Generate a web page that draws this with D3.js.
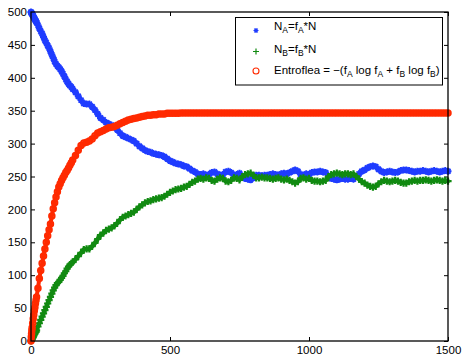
<!DOCTYPE html>
<html><head><meta charset="utf-8">
<script src="https://cdn.jsdelivr.net/npm/d3@7"></script>
<style>body{margin:0;background:#fff}svg{display:block}text{font-family:"Liberation Sans",Arial,Helvetica,sans-serif}</style>
</head><body>
<svg id="c" width="463" height="357"></svg>
<script>
// sample times (finer at the start where the curves are steep)
const xEarly = [0,1,2,3,4,6,8,10,12,14,16,18,20];
const steps = xEarly.concat(d3.range(25,151,5), d3.range(160,1501,10));

// N_A = f_A * N  (blue)
const nA = [500,499,498,498,497,495,494,492,490,489,487,486,484,
480,475,471,467,462,457,453,449,445,440,435,430,425,421,418,416,413,410,406,402,398,394,391,388,386,383,
378,372,366,361,360,360,356,351,345,339,336,332,330,328,325,321,316,312,310,308,306,304,300,296,293,290,288,287,285,284,
283,282,280,277,274,272,270,269,268,266,265,262,259,257,254,253,254,252,253,256,257,254,252,253,257,258,256,252,253,255,
250,247,246,245,248,252,252,251,252,252,253,254,253,252,254,255,254,256,258,260,258,253,252,254,253,256,257,257,258,257,
256,250,247,246,245,246,247,246,246,247,246,250,254,258,260,263,265,266,265,261,258,256,257,258,257,256,257,259,260,260,
259,258,257,258,258,259,258,257,258,259,258,257,258,259,258];

// N_B = f_B * N  (green)
const nB = [0,1,2,2,3,5,6,8,10,11,13,14,16,
22,27,32,37,42,47,52,57,62,67,72,77,81,85,88,90,93,96,99,103,106,110,113,116,118,120,
124,129,134,139,140,140,144,149,155,161,164,168,170,172,175,179,184,188,190,192,194,196,200,204,207,210,212,213,215,216,
217,218,220,223,226,228,230,231,232,234,235,238,241,243,246,247,246,248,247,244,243,246,248,247,243,242,244,248,247,245,
250,253,254,255,252,248,248,249,248,248,247,246,247,248,246,245,246,244,242,240,242,247,248,246,247,244,243,243,242,243,
244,250,253,254,255,254,253,254,254,253,254,250,246,242,240,237,235,234,235,239,242,244,243,242,243,244,243,241,240,240,
242,243,244,243,244,244,245,244,243,244,245,244,243,244,243];

// Entroflea (red)
const entro = [0,6,11,16,20,27,34,40,46,51,57,62,67,
80,95,107,118,129,140,150,160,169,178,190,201,210,219,227,234,239,244,248,252,256,259,263,267,271,275,
282,290,297,301,302,304,307,312,316,318,320,322,324,325,326,328,330,332,334,336,337,338,339,340,341,342,343,343,344,344,
345,345,345,346,346,346,346,346,346.5,346.5,346.5,346.5,346.5,346.5,346.5,346.5,346.5,346.5,346.5,346.5,346.5,346.5,346.5,346.5,346.5,346.5,
346.5,346.5,346.5,346.5,346.5,346.5,346.5,346.5,346.5,346.5,346.5,346.5,346.5,346.5,346.5,346.5,346.5,346.5,346.5,346.5,346.5,346.5,346.5,346.5,346.5,346.5,
346.5,346.5,346.5,346.5,346.5,346.5,346.5,346.5,346.5,346.5,346.5,346.5,346.5,346.5,346.5,346.5,346.5,346.5,346.5,346.5,346.5,346.5,346.5,346.5,346.5,346.5,
346.5,346.5,346.5,346.5,346.5,346.5,346.5,346.5,346.5,346.5,346.5,346.5,346.5,346.5,346.5,346.5,346.5,346.5,346.5,346.5,346.5,346.5,346.5,346.5,346.5,346.5,
346.5,346.5,346.5,346.5,346.5,346.5,346.5,346.5,346.5,346.5,346.5,346.5,346.5,346.5,346.5];

const xTicks = [0,500,1000,1500];
const yTicks = [0,50,100,150,200,250,300,350,400,450,500];

const colA = "#1f3cff", colB = "#118a11", colE = "#ff2a00";

const svg = d3.select("#c");
const L = 31, R = 448, T = 12, B = 341;
const x = d3.scaleLinear().domain([0,1500]).range([L,R]);
const y = d3.scaleLinear().domain([0,500]).range([B,T]);

const fs = "11.5px";
const fmt = d3.format("d");
function styleAxis(g){
  g.select(".domain").remove();
  g.selectAll("line").attr("stroke","#000").attr("stroke-width",1);
  g.selectAll("text").attr("fill","#000").style("font-size",fs).style("font-family",'"Liberation Sans",Arial,sans-serif');
}
svg.append("g").attr("transform",`translate(0,${B})`)
  .call(d3.axisBottom(x).tickValues(xTicks).tickFormat(fmt).tickSizeInner(-4).tickSizeOuter(0).tickPadding(5)).call(styleAxis);
svg.append("g").attr("transform",`translate(0,${T})`)
  .call(d3.axisTop(x).tickValues(xTicks).tickSizeInner(-4).tickSizeOuter(0).tickFormat("")).call(styleAxis);
svg.append("g").attr("transform",`translate(${L},0)`)
  .call(d3.axisLeft(y).tickValues(yTicks).tickFormat(fmt).tickSizeInner(-4).tickSizeOuter(0).tickPadding(4)).call(styleAxis);
svg.append("g").attr("transform",`translate(${R},0)`)
  .call(d3.axisRight(y).tickValues(yTicks).tickSizeInner(-4).tickSizeOuter(0).tickFormat("")).call(styleAxis);

const star = "M-3.5,0H3.5M0,-3.5V3.5M-2.5,-2.5L2.5,2.5M-2.5,2.5L2.5,-2.5";
const plus = "M-3.6,0H3.6M0,-3.6V3.6";

const plot = svg.append("g");
function band(vals, col, w){
  const ln = d3.line().x((d)=>x(d)).y((d,i)=>y(vals[i]));
  plot.append("path").attr("d",ln(steps)).attr("fill","none").attr("stroke",col)
    .attr("stroke-width",w).attr("stroke-linejoin","round").attr("stroke-linecap","round");
}
band(nA, colA, 4.5);
plot.selectAll("path.a").data(steps).join("path").attr("class","a")
  .attr("transform",(d,i)=>`translate(${x(d)},${y(nA[i])})`).attr("d",star)
  .attr("stroke",colA).attr("stroke-width",1.9).attr("fill","none");
band(nB, colB, 4.5);
plot.selectAll("path.b").data(steps).join("path").attr("class","b")
  .attr("transform",(d,i)=>`translate(${x(d)},${y(nB[i])})`).attr("d",plus)
  .attr("stroke",colB).attr("stroke-width",2.2).attr("fill","none");
band(entro, colE, 4);
plot.selectAll("circle.e").data(steps).join("circle").attr("class","e")
  .attr("cx",(d)=>x(d)).attr("cy",(d,i)=>y(entro[i])).attr("r",2.7)
  .attr("stroke",colE).attr("stroke-width",2.1).attr("fill","none");

// axes box
svg.append("rect").attr("x",L).attr("y",T).attr("width",R-L).attr("height",B-T)
  .attr("fill","none").attr("stroke","#000").attr("stroke-width",1.3);

// legend
const lg = svg.append("g");
lg.append("rect").attr("x",235.5).attr("y",17.5).attr("width",207).attr("height",67.5)
  .attr("fill","#fff").attr("stroke","#000").attr("stroke-width",1);
lg.append("path").attr("transform","translate(256,30.5)").attr("d","M-2.5,0H2.5M0,-2.5V2.5M-1.8,-1.8L1.8,1.8M-1.8,1.8L1.8,-1.8")
  .attr("stroke",colA).attr("stroke-width",1.2).attr("fill","none");
lg.append("path").attr("transform","translate(256,51.5)").attr("d","M-3,0H3M0,-3V3")
  .attr("stroke",colB).attr("stroke-width",1.2).attr("fill","none");
lg.append("circle").attr("cx",256).attr("cy",71).attr("r",3)
  .attr("stroke",colE).attr("stroke-width",1.1).attr("fill","none");

function richText(xp, yp, parts){
  const t = lg.append("text").attr("x",xp).attr("y",yp).style("font-size",fs).attr("fill","#000");
  let shifted = false;
  parts.forEach(p=>{
    const sub = typeof p !== "string";
    const s = t.append("tspan").text(sub ? p.s : p);
    if (sub && !shifted){ s.attr("dy",3).style("font-size","8.5px"); shifted = true; }
    else if (sub) { s.style("font-size","8.5px"); }
    else if (!sub && shifted){ s.attr("dy",-3); shifted = false; }
  });
}
richText(274, 30, ["N",{s:"A"},"=f",{s:"A"},"*N"]);
richText(274, 52.5, ["N",{s:"B"},"=f",{s:"B"},"*N"]);
richText(274, 74, ["Entroflea = \u2212(f",{s:"A"}," log f",{s:"A"}," + f",{s:"B"}," log f",{s:"B"},")"]);
</script>
</body></html>
